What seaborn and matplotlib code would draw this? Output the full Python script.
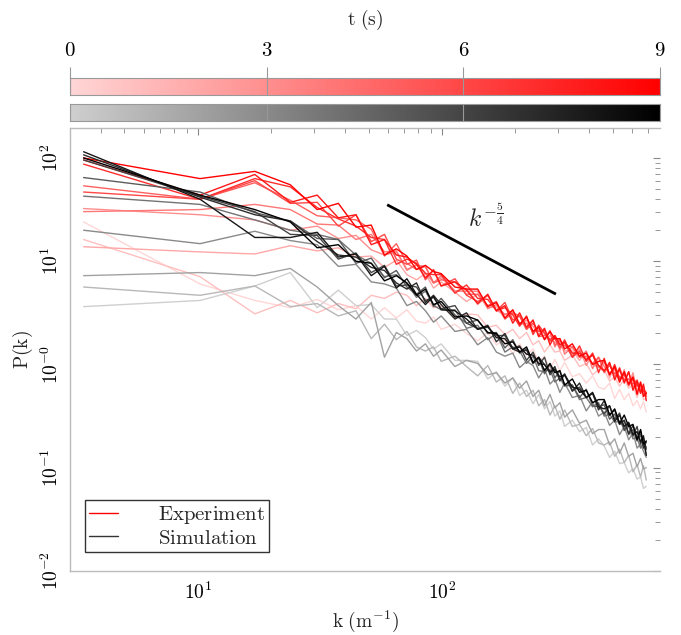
import numpy as np
import pandas as pd
import matplotlib
matplotlib.use("Agg")
import matplotlib.pyplot as plt
import seaborn as sns
from matplotlib.colors import LinearSegmentedColormap, Normalize
from matplotlib.lines import Line2D

# ---------------- data (log10 P(k)) ----------------
k_values = [3.4, 10.2, 17.1, 23.9, 30.8, 37.6, 44.4, 51.3, 58.1, 65.0,
            71.8, 78.6, 85.5, 92.3, 99.2, 113, 126, 140, 154, 167,
            181, 195, 208, 222, 236, 249, 263, 277, 290, 304,
            318, 342, 366, 390, 414, 438, 462, 486, 510, 534,
            558, 582, 606, 630, 651, 669, 687]
times = [0, 1, 2, 3, 4, 5, 6, 7, 8, 9]

exp_t0 = [1.38, 0.78, 0.62, 0.55, 0.63, 0.53, 0.57, 0.44, 0.55, 0.45,
          0.53, 0.42, 0.40, 0.46, 0.34, 0.39, 0.30, 0.23, 0.31, 0.19,
          0.24, 0.10, 0.20, 0.09, 0.15, 0.02, 0.08, -0.05, 0.05, -0.06,
          0.02, -0.12, -0.09, -0.18, -0.11, -0.22, -0.24, -0.18, -0.33, -0.24,
          -0.34, -0.28, -0.40, -0.35, -0.43, -0.36, -0.46]
exp_t1 = [1.21, 0.85, 0.49, 0.62, 0.50, 0.59, 0.54, 0.67, 0.64, 0.70,
          0.67, 0.57, 0.64, 0.55, 0.57, 0.45, 0.49, 0.48, 0.36, 0.38,
          0.29, 0.34, 0.25, 0.31, 0.19, 0.23, 0.12, 0.19, 0.12, 0.13,
          0.04, 0.09, -0.02, 0.01, -0.10, -0.05, -0.05, -0.16, -0.12, -0.21,
          -0.14, -0.23, -0.20, -0.32, -0.23, -0.34, -0.33]
exp_t2 = [1.14, 1.09, 1.07, 1.15, 1.10, 1.13, 1.04, 1.05, 0.94, 1.01,
          0.87, 0.82, 0.88, 0.74, 0.80, 0.70, 0.61, 0.68, 0.55, 0.56,
          0.44, 0.50, 0.39, 0.43, 0.31, 0.34, 0.24, 0.28, 0.21, 0.25,
          0.13, 0.14, 0.04, 0.12, 0.00, -0.03, 0.03, -0.13, -0.02, -0.15,
          -0.07, -0.21, -0.15, -0.25, -0.17, -0.30, -0.28]
exp_t3 = [1.51, 1.45, 1.40, 1.30, 1.34, 1.22, 1.25, 1.11, 1.06, 1.09,
          0.91, 0.97, 0.89, 0.79, 0.84, 0.71, 0.74, 0.58, 0.67, 0.52,
          0.49, 0.50, 0.40, 0.43, 0.37, 0.29, 0.35, 0.22, 0.27, 0.14,
          0.23, 0.09, 0.15, -0.01, 0.11, -0.03, 0.02, -0.09, -0.05, -0.17,
          -0.05, -0.20, -0.08, -0.26, -0.18, -0.27, -0.29]
exp_t4 = [1.48, 1.50, 1.55, 1.50, 1.36, 1.35, 1.21, 1.26, 1.09, 1.10,
          0.92, 0.96, 0.95, 0.79, 0.86, 0.71, 0.71, 0.71, 0.54, 0.58,
          0.48, 0.52, 0.39, 0.40, 0.32, 0.37, 0.25, 0.33, 0.17, 0.25,
          0.10, 0.17, 0.07, 0.13, -0.04, 0.07, -0.02, -0.09, -0.04, -0.12,
          -0.10, -0.20, -0.13, -0.20, -0.20, -0.29, -0.27]
exp_t5 = [1.73, 1.60, 1.76, 1.59, 1.44, 1.42, 1.40, 1.31, 1.05, 1.17,
          0.98, 0.92, 0.95, 0.79, 0.82, 0.80, 0.68, 0.68, 0.57, 0.61,
          0.44, 0.50, 0.47, 0.34, 0.43, 0.27, 0.28, 0.31, 0.19, 0.23,
          0.18, 0.17, 0.07, 0.08, 0.01, 0.07, -0.08, 0.01, -0.12, -0.03,
          -0.16, -0.07, -0.22, -0.17, -0.27, -0.21, -0.31]
exp_t6 = [1.67, 1.60, 1.78, 1.56, 1.57, 1.34, 1.45, 1.19, 1.26, 1.02,
          0.97, 1.01, 0.82, 0.92, 0.76, 0.83, 0.67, 0.61, 0.67, 0.52,
          0.60, 0.43, 0.47, 0.34, 0.40, 0.32, 0.33, 0.23, 0.25, 0.16,
          0.24, 0.07, 0.13, 0.04, 0.10, -0.01, -0.07, -0.01, -0.09, -0.06,
          -0.15, -0.14, -0.19, -0.15, -0.25, -0.24, -0.28]
exp_t7 = [1.94, 1.60, 1.80, 1.72, 1.52, 1.41, 1.34, 1.23, 1.21, 0.97,
          1.02, 0.98, 0.88, 0.87, 0.87, 0.69, 0.77, 0.64, 0.63, 0.52,
          0.55, 0.48, 0.37, 0.47, 0.29, 0.38, 0.30, 0.24, 0.28, 0.19,
          0.21, 0.07, 0.18, 0.03, 0.11, -0.08, 0.06, -0.10, 0.00, -0.14,
          -0.09, -0.20, -0.14, -0.21, -0.20, -0.26, -0.27]
exp_t8 = [1.98, 1.64, 1.84, 1.57, 1.64, 1.42, 1.45, 1.16, 1.21, 1.06,
          1.04, 0.97, 0.84, 0.91, 0.76, 0.80, 0.72, 0.59, 0.68, 0.52,
          0.57, 0.40, 0.50, 0.36, 0.43, 0.27, 0.35, 0.19, 0.28, 0.19,
          0.22, 0.11, 0.11, 0.05, 0.09, -0.01, -0.06, 0.02, -0.15, -0.04,
          -0.18, -0.07, -0.25, -0.16, -0.28, -0.19, -0.35]
exp_t9 = [2.00, 1.80, 1.87, 1.74, 1.50, 1.56, 1.33, 1.35, 1.06, 1.12,
          1.05, 0.92, 0.96, 0.90, 0.88, 0.75, 0.73, 0.73, 0.56, 0.60,
          0.45, 0.53, 0.39, 0.46, 0.32, 0.36, 0.24, 0.32, 0.25, 0.25,
          0.15, 0.20, 0.08, 0.11, 0.00, 0.03, 0.04, -0.10, -0.02, -0.17,
          -0.07, -0.19, -0.12, -0.29, -0.17, -0.31, -0.28]

sim_t0 = [0.56, 0.62, 0.76, 0.89, 0.55, 0.72, 0.57, 0.58, 0.44, 0.44,
          0.28, 0.33, 0.26, 0.15, 0.20, 0.04, 0.04, 0.03, -0.14, -0.07,
          -0.21, -0.13, -0.30, -0.25, -0.38, -0.29, -0.43, -0.36, -0.50, -0.45,
          -0.60, -0.54, -0.65, -0.61, -0.78, -0.72, -0.79, -0.90, -0.84, -0.96,
          -0.95, -1.05, -1.01, -1.11, -1.09, -1.20, -1.18]
sim_t1 = [0.75, 0.67, 0.76, 0.56, 0.59, 0.47, 0.52, 0.25, 0.39, 0.24,
          0.32, 0.17, 0.13, 0.17, 0.03, 0.08, -0.02, -0.11, -0.01, -0.17,
          -0.11, -0.28, -0.18, -0.31, -0.25, -0.40, -0.34, -0.49, -0.40, -0.53,
          -0.44, -0.60, -0.58, -0.69, -0.62, -0.76, -0.78, -0.75, -0.89, -0.82,
          -0.95, -0.88, -1.04, -0.97, -1.09, -0.98, -1.12]
sim_t2 = [0.86, 0.89, 0.86, 0.93, 0.75, 0.57, 0.44, 0.60, 0.07, 0.31,
          0.25, 0.13, 0.20, 0.08, 0.14, -0.02, 0.04, 0.01, -0.10, -0.08,
          -0.18, -0.13, -0.23, -0.16, -0.31, -0.25, -0.40, -0.29, -0.42, -0.37,
          -0.51, -0.44, -0.57, -0.54, -0.67, -0.63, -0.63, -0.78, -0.72, -0.86,
          -0.76, -0.89, -0.86, -0.99, -0.91, -1.01, -1.00]
sim_t3 = [1.30, 1.17, 1.29, 1.20, 1.16, 0.95, 0.97, 0.80, 0.78, 0.74,
          0.57, 0.61, 0.52, 0.41, 0.47, 0.32, 0.34, 0.19, 0.26, 0.12,
          0.08, 0.11, -0.03, 0.03, -0.01, -0.13, -0.04, -0.19, -0.14, -0.27,
          -0.18, -0.32, -0.30, -0.45, -0.36, -0.50, -0.46, -0.59, -0.54, -0.68,
          -0.60, -0.73, -0.66, -0.81, -0.77, -0.84, -0.90]
sim_t4 = [1.63, 1.55, 1.40, 1.30, 1.26, 1.21, 1.06, 0.98, 0.85, 0.87,
          0.78, 0.65, 0.71, 0.57, 0.53, 0.53, 0.35, 0.38, 0.24, 0.30,
          0.12, 0.17, 0.13, 0.01, 0.08, -0.06, -0.07, -0.05, -0.17, -0.13,
          -0.21, -0.20, -0.34, -0.32, -0.41, -0.37, -0.50, -0.48, -0.56, -0.55,
          -0.62, -0.60, -0.72, -0.71, -0.81, -0.76, -0.88]
sim_t5 = [1.81, 1.67, 1.47, 1.39, 1.22, 1.21, 0.98, 1.03, 0.84, 0.91,
          0.75, 0.68, 0.75, 0.56, 0.64, 0.48, 0.40, 0.43, 0.30, 0.31,
          0.16, 0.24, 0.11, 0.15, 0.01, 0.06, -0.09, 0.00, -0.13, -0.06,
          -0.20, -0.20, -0.32, -0.24, -0.40, -0.41, -0.39, -0.53, -0.48, -0.58,
          -0.54, -0.68, -0.63, -0.74, -0.68, -0.78, -0.80]
sim_t6 = [1.98, 1.63, 1.48, 1.26, 1.25, 1.02, 1.08, 0.89, 0.96, 0.76,
          0.77, 0.75, 0.62, 0.65, 0.54, 0.57, 0.40, 0.35, 0.36, 0.28,
          0.28, 0.16, 0.18, 0.04, 0.12, -0.01, 0.07, -0.10, -0.04, -0.15,
          -0.09, -0.25, -0.22, -0.32, -0.28, -0.39, -0.48, -0.40, -0.53, -0.47,
          -0.64, -0.57, -0.69, -0.60, -0.77, -0.71, -0.82]
sim_t7 = [2.03, 1.62, 1.45, 1.39, 1.19, 1.06, 1.04, 0.94, 0.91, 0.79,
          0.73, 0.79, 0.60, 0.67, 0.58, 0.44, 0.50, 0.34, 0.38, 0.22,
          0.30, 0.15, 0.12, 0.14, 0.01, 0.07, 0.00, -0.08, -0.02, -0.16,
          -0.10, -0.26, -0.18, -0.32, -0.28, -0.44, -0.35, -0.49, -0.44, -0.58,
          -0.54, -0.67, -0.59, -0.72, -0.64, -0.81, -0.75]
sim_t8 = [2.06, 1.60, 1.23, 1.23, 1.28, 1.04, 1.07, 0.86, 0.95, 0.74,
          0.83, 0.68, 0.58, 0.66, 0.53, 0.52, 0.44, 0.34, 0.37, 0.26,
          0.25, 0.15, 0.17, 0.10, 0.09, 0.01, 0.00, -0.07, -0.05, -0.12,
          -0.10, -0.22, -0.24, -0.32, -0.27, -0.41, -0.43, -0.40, -0.55, -0.49,
          -0.60, -0.56, -0.68, -0.65, -0.75, -0.69, -0.88]
sim_t9 = [2.00, 1.64, 1.50, 1.38, 1.13, 1.16, 1.00, 0.98, 0.81, 0.86,
          0.79, 0.67, 0.73, 0.58, 0.61, 0.46, 0.47, 0.43, 0.31, 0.30,
          0.20, 0.22, 0.12, 0.17, 0.02, 0.07, -0.06, 0.01, -0.08, -0.06,
          -0.20, -0.14, -0.27, -0.25, -0.37, -0.34, -0.34, -0.49, -0.43, -0.57,
          -0.49, -0.60, -0.58, -0.73, -0.63, -0.77, -0.74]

ref_k = [59.6, 293.0]
ref_P = [35.2, 4.80]

cbar_ticks = [0, 3, 6, 9]
y_ticks = [1e-2, 1e-1, 1e0, 1e1, 1e2]
y_ticklabels = [r"$10^{-2}$", r"$10^{-1}$", r"$10^{-0}$", r"$10^{1}$", r"$10^{2}$"]
x_ticks = [10, 100]
x_ticklabels = [r"$10^{1}$", r"$10^{2}$"]
legend_labels = [r"$\mathrm{Experiment}$", r"$\mathrm{Simulation}$"]

exp_series = [exp_t0, exp_t1, exp_t2, exp_t3, exp_t4, exp_t5, exp_t6, exp_t7, exp_t8, exp_t9]
sim_series = [sim_t0, sim_t1, sim_t2, sim_t3, sim_t4, sim_t5, sim_t6, sim_t7, sim_t8, sim_t9]


def to_frame(series):
    rows = []
    for t, vals in zip(times, series):
        for k, lp in zip(k_values, vals):
            rows.append({"k": k, "P": 10 ** lp, "t": t})
    return pd.DataFrame(rows)


df_exp = to_frame(exp_series)
df_sim = to_frame(sim_series)

# ---------------- style ----------------
sns.set_theme(style="white")
plt.rcParams["font.family"] = ["DejaVu Serif"]
plt.rcParams["mathtext.fontset"] = "cm"
FS = 14

red_cmap = LinearSegmentedColormap.from_list("exp", ["#ffd6d6", "#ff0000"])
gray_cmap = LinearSegmentedColormap.from_list("sim", ["#cfcfcf", "#000000"])
norm = Normalize(0, 9)

W, H = 681, 635
fig = plt.figure(figsize=(W / 100, H / 100), dpi=100)


def fa(x0, y0, x1, y1):
    return [x0 / W, 1 - y1 / H, (x1 - x0) / W, (y1 - y0) / H]


ax = fig.add_axes(fa(70, 128, 660, 571))

sns.lineplot(data=df_exp, x="k", y="P", hue="t", palette=red_cmap, hue_norm=norm,
             units="t", estimator=None, sort=False, legend=False, lw=1.0, ax=ax)
sns.lineplot(data=df_sim, x="k", y="P", hue="t", palette=gray_cmap, hue_norm=norm,
             units="t", estimator=None, sort=False, legend=False, lw=1.0, ax=ax)

ax.plot(ref_k, ref_P, color="black", lw=2.0, solid_capstyle="butt")
ax.text(128, 21.5, r"$k^{-\frac{5}{4}}$", fontsize=17, va="baseline", ha="left")

ax.set_xscale("log")
ax.set_yscale("log")
ax.set_xlim(2.99, 782)
ax.set_ylim(1e-2, 10 ** 2.29)
ax.set_xticks(x_ticks)
ax.set_xticklabels(x_ticklabels, fontsize=FS)
ax.set_yticks(y_ticks)
ax.set_yticklabels(y_ticklabels, fontsize=FS, rotation=90, va="center")
ax.tick_params(axis="both", which="both", direction="in", colors="#888888",
               top=True, right=True, labelcolor="black")
ax.tick_params(which="major", length=5, width=0.8)
ax.tick_params(which="minor", length=3.5, width=0.6)
ax.tick_params(axis="x", pad=8)
ax.tick_params(axis="y", pad=6)
for s in ["left", "bottom", "top"]:
    ax.spines[s].set_color("#bbbbbb")
    ax.spines[s].set_linewidth(1.0)
ax.spines["right"].set_visible(False)
ax.set_xlabel(r"$\mathrm{k\ (m^{-1})}$", fontsize=FS, labelpad=4)
ax.set_ylabel(r"$\mathrm{P(k)}$", fontsize=FS, labelpad=4)
ax.grid(False)

handles = [Line2D([], [], color="red", lw=1.0), Line2D([], [], color="#333333", lw=1.0)]
leg = ax.legend(handles, legend_labels,
                loc="lower left", bbox_to_anchor=(0.025, 0.043), borderaxespad=0,
                fontsize=15, frameon=True, fancybox=False, handlelength=1.4,
                handletextpad=1.9, labelspacing=0.12, borderpad=0.2)
leg.get_frame().set_edgecolor("black")
leg.get_frame().set_linewidth(1.0)

# ---------------- colour bars ----------------
grad = np.linspace(0, 9, 256).reshape(1, -1)
cax1 = fig.add_axes(fa(70, 78, 660, 95))
cax2 = fig.add_axes(fa(70, 104, 660, 121))
for cax, cmap in [(cax1, red_cmap), (cax2, gray_cmap)]:
    cax.imshow(grad, cmap=cmap, norm=norm, aspect="auto", extent=[0, 9, 0, 1])
    cax.set_xlim(0, 9)
    cax.set_yticks([])
    for t in cbar_ticks:
        cax.axvline(t, color="#999999", lw=0.8)
    for s in cax.spines.values():
        s.set_color("#999999")
        s.set_linewidth(0.8)
cax2.set_xticks([])
cax1.set_xticks(cbar_ticks)
cax1.set_xticklabels([rf"${t}$" for t in cbar_ticks], fontsize=15)
cax1.xaxis.tick_top()
cax1.tick_params(axis="x", direction="out", length=8, width=0.8, colors="#999999",
                 labelcolor="black", pad=5)
fig.text(365 / W, 1 - 20 / H, r"$\mathrm{t\ (s)}$", fontsize=FS, ha="center", va="center")

fig.savefig("out.png", dpi=100)
